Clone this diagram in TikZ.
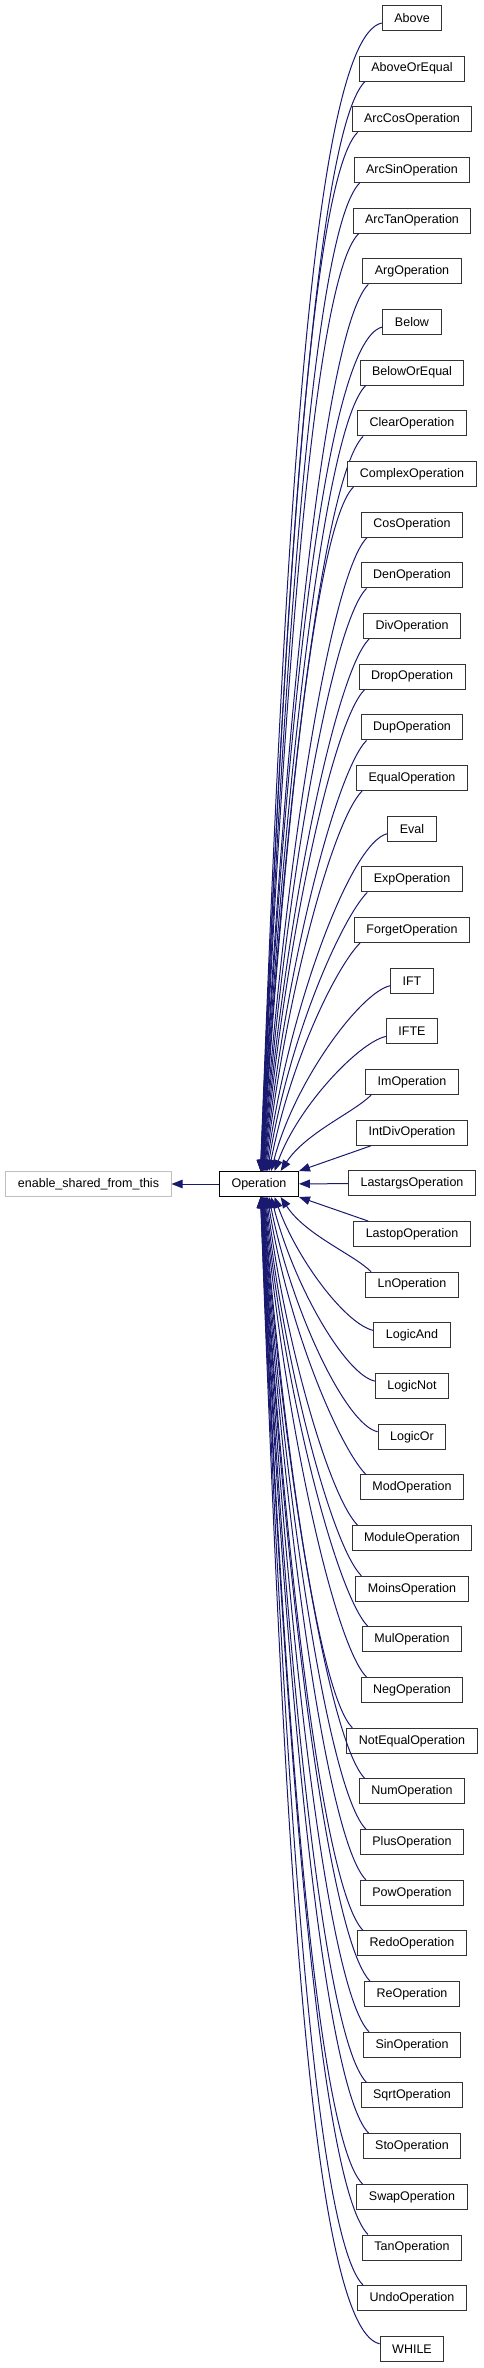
\documentclass[tikz,border=0pt]{standalone}
\usepackage{fontspec}
\setmainfont{Liberation Sans}
\usepackage{tikz}
\usetikzlibrary{arrows.meta, calc}
\definecolor{mynavy}{RGB}{25,25,112}
\definecolor{mygrey}{RGB}{191,191,191}
\tikzset{
  classbox/.style={rectangle, draw=black!80, fill=white, line width=1pt,
    minimum height=25pt, inner xsep=12pt, inner ysep=0pt,
    font=\fontsize{12.5}{15}\selectfont},
  opbox/.style={classbox, draw=black},
  basebox/.style={classbox, draw=mygrey},
  edge/.style={-{Triangle[length=11pt,width=8.5pt]}, draw=mynavy, line width=1pt}
}

\begin{document}
\begin{tikzpicture}[x=1pt, y=1pt]
  \useasboundingbox (0,0) rectangle (483,-2368);

  % Base classes
  \node[opbox] (Operation) at (259,-1184) {Operation};
  \node[basebox] (base) at (88.5,-1184) {enable\_shared\_from\_this};
  \draw[edge] (Operation) -- (base);

  % Derived classes (name / narrow box)
  \foreach \cname/\nar [count=\i from 0] in {Above/1, AboveOrEqual/0,
      ArcCosOperation/0, ArcSinOperation/0, ArcTanOperation/0, ArgOperation/0,
      Below/1, BelowOrEqual/0, ClearOperation/0, ComplexOperation/0,
      CosOperation/0, DenOperation/0, DivOperation/0, DropOperation/0,
      DupOperation/0, EqualOperation/0, Eval/1, ExpOperation/0,
      ForgetOperation/0, IFT/1, IFTE/1, ImOperation/0, IntDivOperation/0,
      LastargsOperation/0, LastopOperation/0, LnOperation/0, LogicAnd/1,
      LogicNot/1, LogicOr/1, ModOperation/0, ModuleOperation/0,
      MoinsOperation/0, MulOperation/0, NegOperation/0, NotEqualOperation/0,
      NumOperation/0, PlusOperation/0, PowOperation/0, RedoOperation/0,
      ReOperation/0, SinOperation/0, SqrtOperation/0, StoOperation/0,
      SwapOperation/0, TanOperation/0, UndoOperation/0, WHILE/1}{
    \node[classbox] (\cname) at (412,{-18-50.67*\i}) {\cname};
    \pgfmathtruncatemacro\dd{\i-23}
    \pgfmathtruncatemacro\ad{abs(\dd)}
    \ifnum\dd<0 \def\sgn{1}\def\sa{south west}\def\ea{north}\def\ec{north east}
    \else \def\sgn{-1}\def\sa{north west}\def\ea{south}\def\ec{south east}\fi
    \ifnum\ad<2 \def\ad{2}\fi
    \pgfmathsetmacro\exo{-3+40/exp(0.7*ln(\ad))}
    \pgfmathsetmacro\la{20+2.5*\ad}
    \pgfmathsetmacro\lb{23*\ad}
    \pgfmathsetmacro\ang{90-50/(\ad-0.5)}
    % control offsets
    \pgfmathsetmacro\bx{\lb*cos(\ang)}
    \pgfmathsetmacro\by{\sgn*\lb*sin(\ang)}
    \pgfmathsetmacro\wx{-\la*0.7071}
    \pgfmathsetmacro\wy{-\sgn*\la*0.7071}
    \pgfmathsetmacro\nx{-\la*0.978}
    \pgfmathsetmacro\ny{-\sgn*\la*0.208}
    \pgfmathsetmacro\sy{-5*\sgn}
    \pgfmathtruncatemacro\dd{abs(\i-23)}
    \ifcase\dd
      \draw[edge] (\cname) -- (Operation);
    \or
      \draw[edge] ($(\cname.\sa)+(15,0)$) -- (Operation.\ec);
    \else
      \ifnum\nar=1
        \draw[edge] ($(\cname.west)+(0,\sy)$) .. controls +(\nx,\ny) and +(\bx,\by)
          .. ($(Operation.\ea)+(\exo,0)$);
      \else
        \draw[edge] ($(\cname.\sa)+(6,0)$) .. controls +(\wx,\wy) and +(\bx,\by)
          .. ($(Operation.\ea)+(\exo,0)$);
      \fi
    \fi
  }
\end{tikzpicture}
\end{document}
